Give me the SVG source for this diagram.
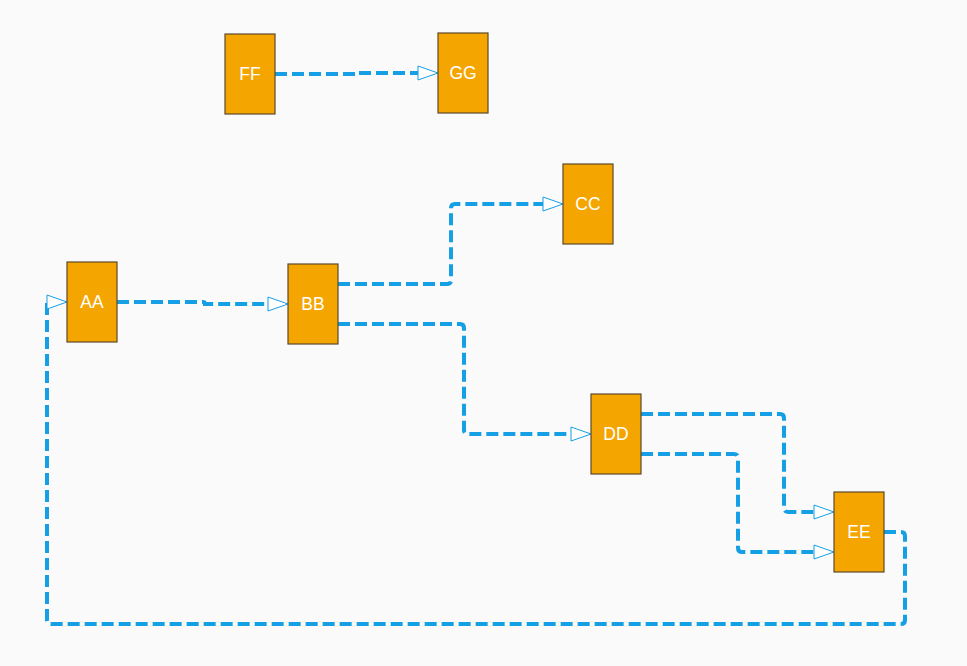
<svg xmlns="http://www.w3.org/2000/svg" width="967" height="666" viewBox="0 0 967 666">
<style>
.node rect{fill:#f5a500;stroke:#5b4a2b;stroke-width:1.2}
.node text{fill:#ffffff;font-family:"Liberation Sans",Arial,sans-serif;font-size:17.5px;text-anchor:middle;dominant-baseline:central}
.edge{fill:none;stroke:#159fe4;stroke-width:4;stroke-dasharray:12 5}
.arrow{fill:#ffffff;stroke:#159fe4;stroke-width:1}
</style>
<rect width="967" height="666" fill="#fafafa"/>
<g id="connectors">
<path class="edge" d="M275,74 H355 V73 H419"/>
<polygon class="arrow" points="418,66 438,73 418,80"/>
<path class="edge" d="M117,302 H203 Q205,302 205,304 H269"/>
<polygon class="arrow" points="268,297 288,304 268,311"/>
<path class="edge" d="M338,284 H447 Q451,284 451,280 V208 Q451,204 455,204 H544"/>
<polygon class="arrow" points="543,197 563,204 543,211"/>
<path class="edge" d="M338,324 H460 Q464,324 464,328 V430 Q464,434 468,434 H572"/>
<polygon class="arrow" points="571,427 591,434 571,441"/>
<path class="edge" d="M641,414 H780 Q784,414 784,418 V508 Q784,512 788,512 H815"/>
<polygon class="arrow" points="814,505 834,512 814,519"/>
<path class="edge" d="M641,454 H734 Q738,454 738,458 V548 Q738,552 742,552 H815"/>
<polygon class="arrow" points="814,545 834,552 814,559"/>
<path class="edge" d="M884,532 H901 Q905,532 905,536 V620 Q905,624 901,624 H51 Q47,624 47,620 V302"/>
<polygon class="arrow" points="47,295 67,302 47,309"/>
</g>
<g id="node-FF" class="node"><rect x="225" y="34" width="50" height="80"/><text x="250" y="74">FF</text></g>
<g id="node-GG" class="node"><rect x="438" y="33" width="50" height="80"/><text x="463" y="73">GG</text></g>
<g id="node-CC" class="node"><rect x="563" y="164" width="50" height="80"/><text x="588" y="204">CC</text></g>
<g id="node-AA" class="node"><rect x="67" y="262" width="50" height="80"/><text x="92" y="302">AA</text></g>
<g id="node-BB" class="node"><rect x="288" y="264" width="50" height="80"/><text x="313" y="304">BB</text></g>
<g id="node-DD" class="node"><rect x="591" y="394" width="50" height="80"/><text x="616" y="434">DD</text></g>
<g id="node-EE" class="node"><rect x="834" y="492" width="50" height="80"/><text x="859" y="532">EE</text></g>
</svg>
